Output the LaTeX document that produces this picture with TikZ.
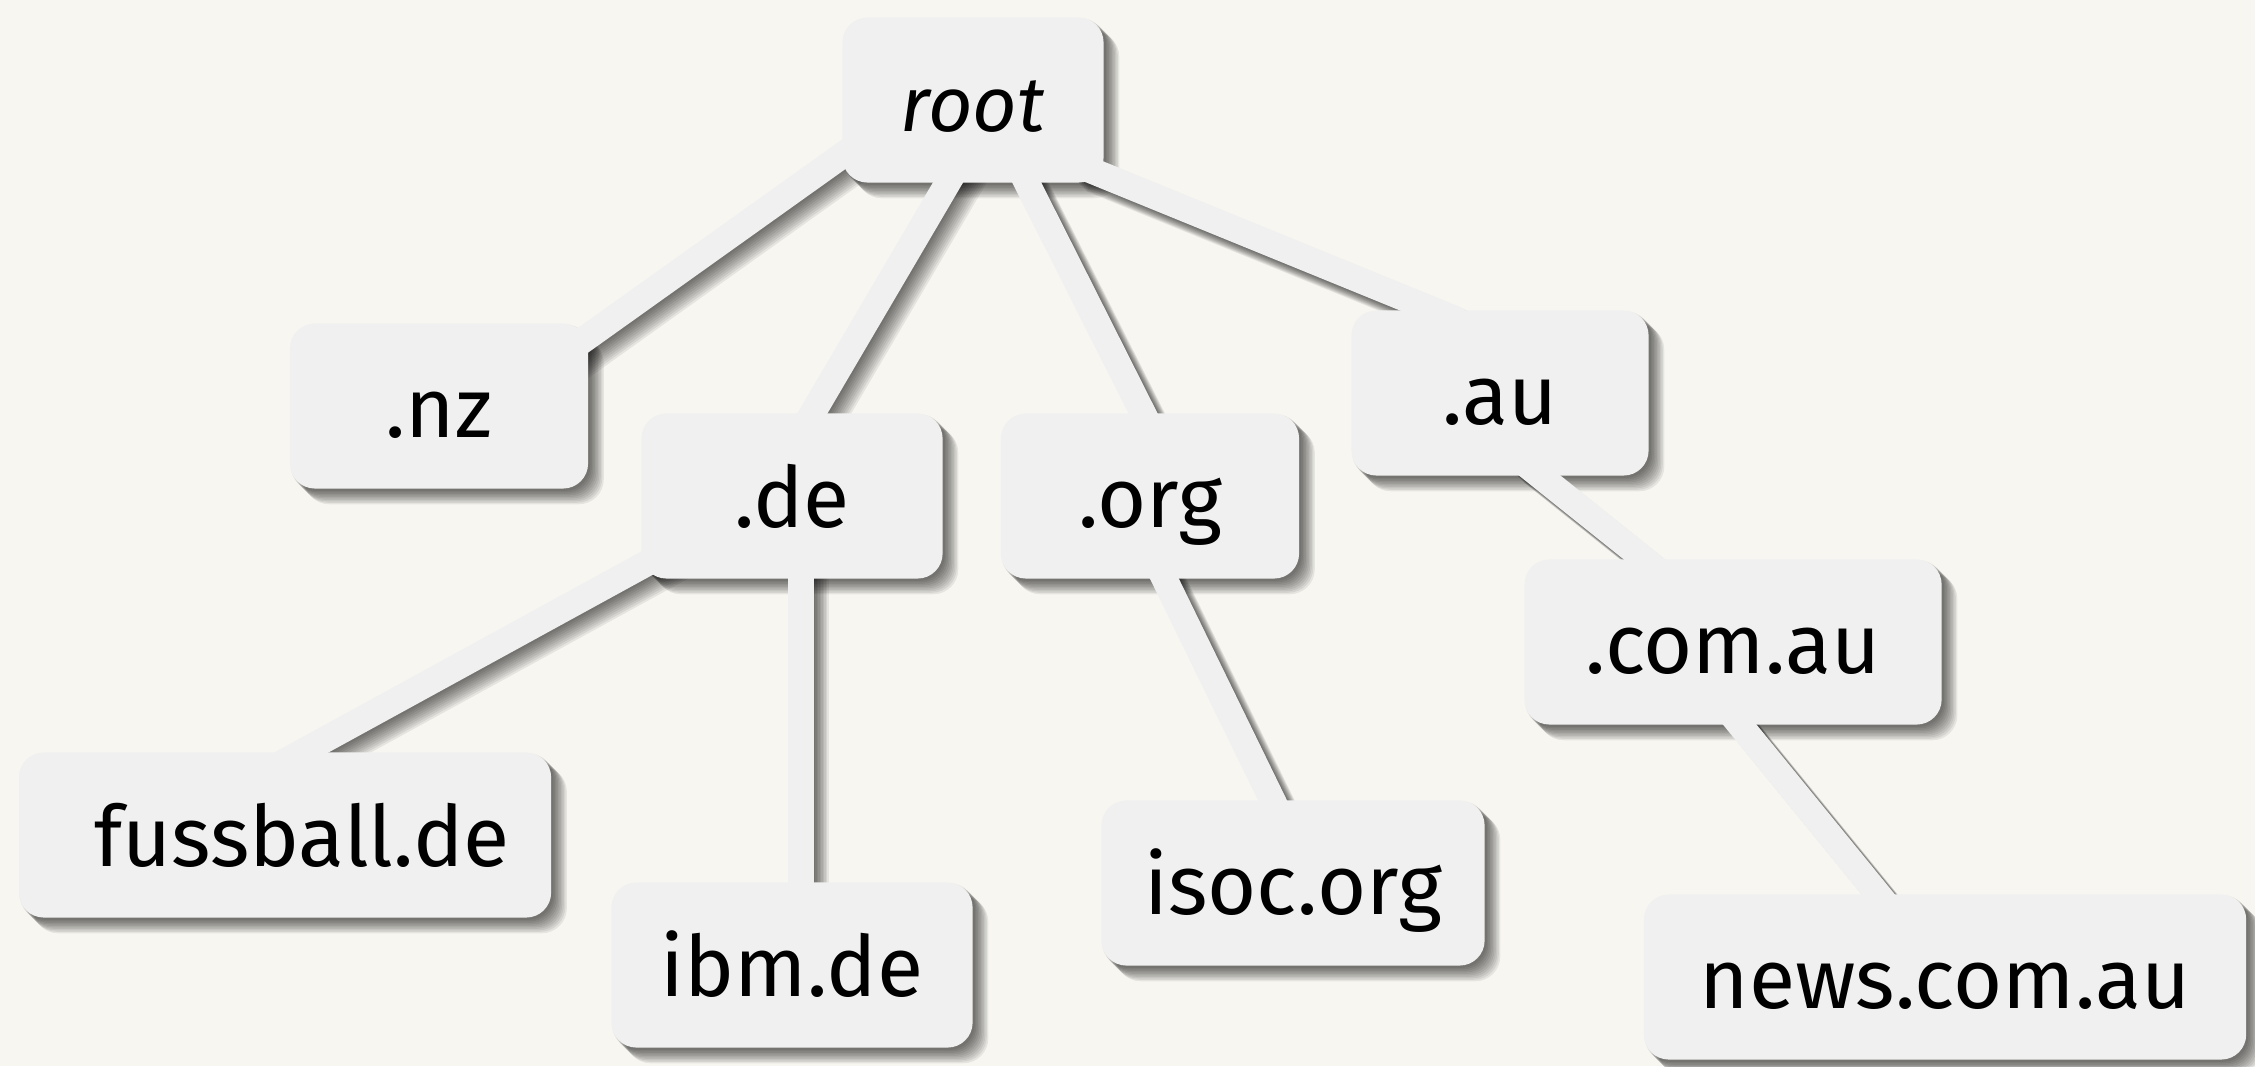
\documentclass[tikz,border=0pt]{standalone}
\usepackage{fontspec}
\setmainfont{Fira Sans}
\definecolor{boxgray}{RGB}{240,240,240}
\definecolor{paper}{RGB}{247,246,241}
\pgfdeclarelayer{back}
\pgfdeclarelayer{shade}
\pgfdeclarelayer{links}
\pgfsetlayers{back,shade,links,main}
\tikzset{dom/.style={fill=boxgray, rounded corners=0.25cm, inner sep=0pt,
    minimum height=1.65cm, text height=23pt, text depth=5pt,
    font=\fontsize{24}{28}\selectfont},
  link/.style={line width=0.26cm, draw=boxgray, shorten <=-0.3cm, shorten >=-0.3cm},
  shadowpart/.style={black, opacity=0.07, rounded corners=0.25cm}}
\begin{document}
\begin{tikzpicture}[x=0.01cm, y=-0.01cm]
\begin{pgfonlayer}{back}
\fill[paper] (0,0) rectangle (2255,1066);
\end{pgfonlayer}
\useasboundingbox (0,0) rectangle (2255,1066);

\node[dom, minimum width=2.61cm, font=\fontsize{22}{26}\selectfont\itshape] (root) at (973,100) {root};
\node[dom, minimum width=2.98cm] (nz) at (439,406) {.nz};
\node[dom, minimum width=3.01cm] (de) at (792,496) {.de};
\node[dom, minimum width=2.98cm] (org) at (1150,496) {.org};
\node[dom, minimum width=2.97cm] (au) at (1500,393) {.au};
\node[dom, minimum width=4.17cm] (comau) at (1733,642) {.com.au};
\node[dom, minimum width=5.32cm] (fussball) at (285,835) {\hspace*{0.34cm}fussball.de};
\node[dom, minimum width=3.61cm] (ibm) at (792,965) {ibm.de};
\node[dom, minimum width=3.83cm] (isoc) at (1293,883) {isoc.org};
\node[dom, minimum width=6.02cm] (news) at (1945,977) {news.com.au};

\begin{pgfonlayer}{links}
\foreach \a/\b in {root.203/nz.25, root.253/de.76, root.303/org.95, root.330/au.129,
    au.296/comau.137, de.205/fussball.78, de.276/ibm.84, org.280/isoc.104, comau.275/news.129}
  {\draw[link] (\a) -- (\b);
   \begin{pgfonlayer}{shade}
   \foreach \s in {0.015,0.03,...,0.16}
     \draw[link, shadowpart, draw=black, transform canvas={xshift=\s cm, yshift=-\s cm}] (\a) -- (\b);
   \end{pgfonlayer}}
\end{pgfonlayer}

% soft shadow under the boxes
\begin{pgfonlayer}{shade}
\foreach \n in {root,nz,de,org,au,comau,fussball,ibm,isoc,news}
  \foreach \s in {0.015,0.03,...,0.16}
    \fill[shadowpart] ([xshift=\s cm, yshift=-\s cm]\n.south west) rectangle ([xshift=\s cm, yshift=-\s cm]\n.north east);
\end{pgfonlayer}
\end{tikzpicture}
\end{document}
